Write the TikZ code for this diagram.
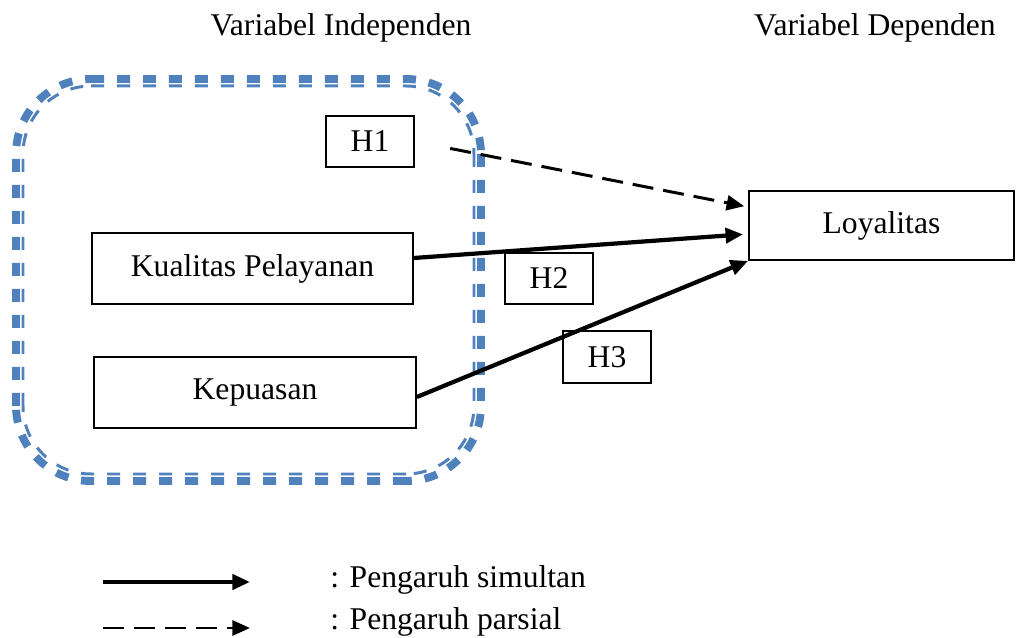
\documentclass[tikz,border=0pt]{standalone}
\usepackage{fontspec}
\setmainfont{Liberation Serif}
\usepackage{tikz}
\usetikzlibrary{arrows.meta,positioning}
\usepackage{xcolor}
\definecolor{grpblue}{RGB}{79,129,189}
\tikzstyle{box} = [draw, line width=1pt, inner sep=0pt, align=center]
\tikzstyle{arrow} = [line width=2.4pt,->,>={Triangle[length=10pt,width=8.5pt]}]
\tikzstyle{darrow} = [line width=1.7pt,->,>={Triangle[length=10pt,width=8.5pt]},dash pattern=on 0.42cm off 0.2cm]
\tikzstyle{outerline} = [grpblue, line width=4.5pt, dash pattern=on 0.26cm off 0.26cm]
\tikzstyle{innerline} = [grpblue, line width=1.7pt, dash pattern=on 0.26cm off 0.26cm]

\begin{document}
\begin{tikzpicture}[font=\fontsize{18}{22}\selectfont]
\useasboundingbox (0,0) rectangle (20.34,12.76);

% Titles
\node[anchor=base] (indep) at (6.82,12.04) {Variabel Independen};
\node[anchor=base] (dep) at (17.5,12.04) {Variabel Dependen};

% Group border (double dashed), one side at a time so the dashes stay paired
\foreach \d/\st in {0/outerline,0.14/innerline}{
  \draw[\st] (1.82,11.18-\d) -- (8.12,11.18-\d) arc[start angle=90,end angle=0,radius=1.5-\d];
  \draw[\st] (9.62-\d,9.68) -- (9.62-\d,4.64) arc[start angle=0,end angle=-90,radius=1.5-\d];
  \draw[\st] (8.12,3.14+\d) -- (1.82,3.14+\d) arc[start angle=-90,end angle=-180,radius=1.5-\d];
  \draw[\st] (0.32+\d,4.64) -- (0.32+\d,9.68) arc[start angle=180,end angle=90,radius=1.5-\d];
}

% Boxes
\node[box, minimum width=1.76cm, minimum height=1.02cm] (H1) at (7.40,9.93) {H1};
\node[box, minimum width=6.42cm, minimum height=1.42cm] (kualitas) at (5.05,7.39) {Kualitas Pelayanan};
\node[box, minimum width=6.44cm, minimum height=1.42cm] (kepuasan) at (5.10,4.91) {Kepuasan};
\node[box, minimum width=5.30cm, minimum height=1.38cm] (loyalitas) at (17.63,8.25) {Loyalitas};
\node[box, minimum width=1.76cm, minimum height=1.02cm] (H2) at (10.98,7.19) {H2};
\node[box, minimum width=1.76cm, minimum height=1.04cm] (H3) at (12.14,5.62) {H3};

% Arrows
\draw[darrow, shorten <=0.72cm, shorten >=0.08cm] (H1.east) -- ([yshift=0.37cm]loyalitas.west);
\draw[arrow, shorten >=0.1cm] ([yshift=0.21cm]kualitas.east) -- ([yshift=-0.17cm]loyalitas.west);
\draw[arrow] ([yshift=-0.09cm]kepuasan.east) -- (loyalitas.south west);

% Legend
\coordinate (s1) at (2.06,1.12);
\coordinate (s2) at (5.0,1.12);
\coordinate (p1) at (2.06,0.2);
\coordinate (p2) at (5.0,0.2);
\draw[arrow] (s1) -- (s2);
\draw[darrow] (p1) -- (p2);
\node[anchor=base west, inner sep=0pt] (simultan) at (6.6,1.0) {: Pengaruh simultan};
\node[anchor=base west, inner sep=0pt] (parsial) at (6.6,0.16) {: Pengaruh parsial};
\end{tikzpicture}
\end{document}
